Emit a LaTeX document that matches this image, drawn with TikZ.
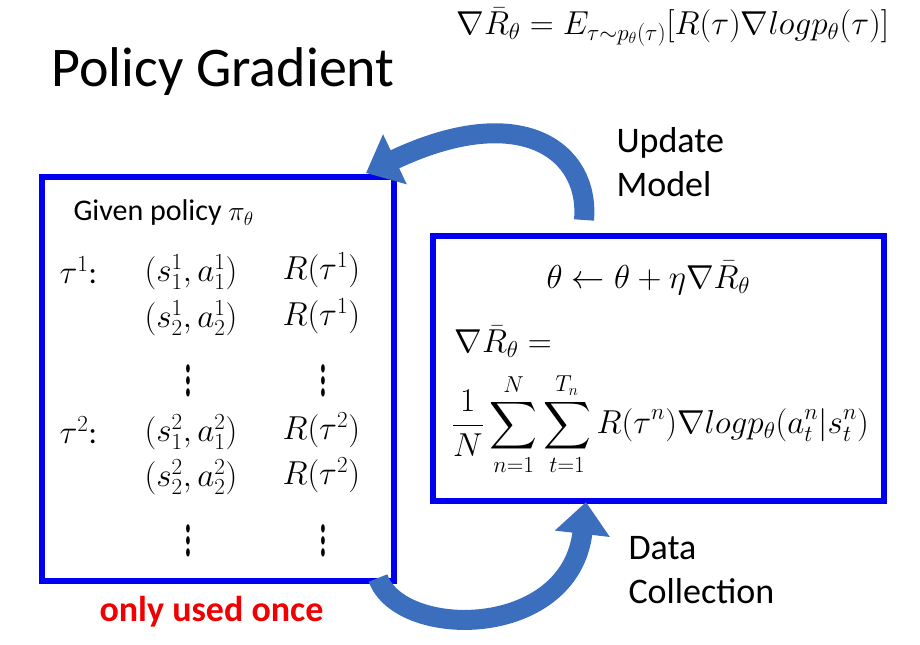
\documentclass[tikz,border=0pt]{standalone}
\usepackage{amsmath}
\usepackage{fontspec}
\setmainfont{Carlito}
\usetikzlibrary{arrows.meta,positioning}
\definecolor{boxblue}{RGB}{0,0,240}
\definecolor{arrowblue}{RGB}{60,110,190}
\definecolor{onceRed}{RGB}{240,0,0}
\tikzset{every picture/.style={line width=0.75pt}}
\tikzset{
  panel/.style={draw=boxblue,line width=4.5pt},
  loop arrow/.style={draw=arrowblue,line width=15pt,-{Triangle[width=40pt,length=24pt]}},
  txt/.style={anchor=west,inner sep=0.75pt,font=\fontsize{21}{24}\selectfont},
  mth/.style={anchor=west,inner sep=0.75pt,font=\fontsize{23.5}{28}\selectfont}
}
\newcommand{\tallvdots}{\scalebox{1}[2.2]{$\vdots$}}
\begin{document}
\begin{tikzpicture}[x=0.75pt,y=0.75pt,yscale=-1,xscale=1]
\useasboundingbox (0,0) rectangle (920,645);

% Boxes
\node[panel,minimum width=352pt*0.75,minimum height=404pt*0.75,anchor=north west] (sample) at (39,174) {};
\node[panel,minimum width=451pt*0.75,minimum height=265pt*0.75,anchor=north west] (model) at (430,233) {};

% Title and objective
\node[anchor=west,inner sep=0.75pt,font=\fontsize{42}{48}\selectfont] (title) at (50,72) {Policy Gradient};
\node[mth,font=\fontsize{24}{28}\selectfont] (objective) at (455,27) {$\nabla\bar{R}_\theta=E_{\tau\sim p_\theta(\tau)}[R(\tau)\nabla logp_\theta(\tau)]$};

% Left box contents
\node[txt,font=\fontsize{22.5}{26}\selectfont] (given) at (72,213) {Given policy $\pi_\theta$};
\node[mth] (tauA) at (58,270) {$\tau^1$:};
\node[mth] (sA1) at (143,272) {$(s_1^1,a_1^1)$};
\node[mth] (rA1) at (281,270) {$R(\tau^1)$};
\node[mth] (sA2) at (143,318) {$(s_2^1,a_2^1)$};
\node[mth] (rA2) at (281,316) {$R(\tau^1)$};
\node[mth] (dA1) at (183,372) {\tallvdots};
\node[mth] (dA2) at (318,372) {\tallvdots};
\node[mth] (tauB) at (58,430) {$\tau^2$:};
\node[mth] (sB1) at (143,432) {$(s_1^2,a_1^2)$};
\node[mth] (rB1) at (281,430) {$R(\tau^2)$};
\node[mth] (sB2) at (143,477) {$(s_2^2,a_2^2)$};
\node[mth] (rB2) at (281,475) {$R(\tau^2)$};
\node[mth] (dB1) at (183,532) {\tallvdots};
\node[mth] (dB2) at (318,532) {\tallvdots};
\node[txt,font=\bfseries\fontsize{27}{30}\selectfont,text=onceRed] (once) at (98,612) {only used once};

% Right box contents
\node[mth,font=\fontsize{27}{30}\selectfont] (update) at (545,278) {$\theta\leftarrow\theta+\eta\nabla\bar{R}_\theta$};
\node[mth,font=\fontsize{25}{30}\selectfont] (gradlhs) at (453,342) {$\nabla\bar{R}_\theta=$};
\node[mth,font=\fontsize{23}{28}\selectfont] (gradsum) at (450,424) {$\displaystyle\frac{1}{N}\sum_{n=1}^{N}\sum_{t=1}^{T_n}R(\tau^n)\nabla logp_\theta(a_t^n|s_t^n)$};

% Arrow labels
\node[txt,align=left,font=\fontsize{27}{33}\selectfont] (updlabel) at (615,162) {Update\\Model};
\node[txt,align=left,font=\fontsize{27}{33}\selectfont] (collabel) at (627,570) {Data\\Collection};

% Loop arrows
\coordinate (upTail) at (584,220);
\coordinate (upHead) at (366,173);
\coordinate (dnTail) at (378,578);
\coordinate (dnHead) at (586,502);
\draw[loop arrow] (upTail) .. controls (590,150) and (520,100) .. (upHead);
\draw[loop arrow] (dnTail) .. controls (400,640) and (570,640) .. (dnHead);
\end{tikzpicture}
\end{document}
